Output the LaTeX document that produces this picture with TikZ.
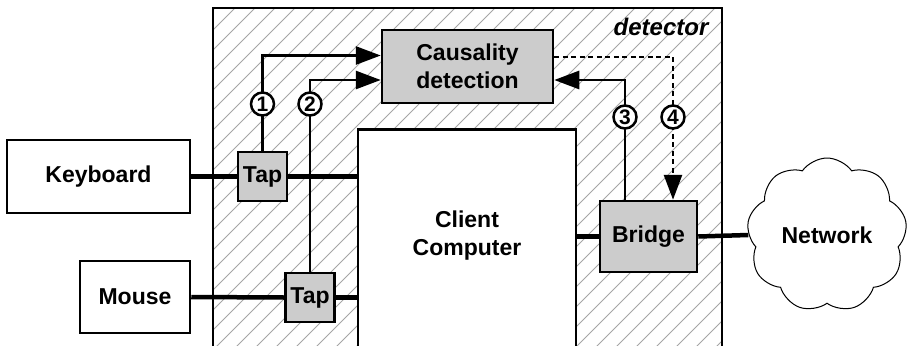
\documentclass[tikz,border=0pt]{standalone}
\usepackage{fontspec}
\setmainfont{Liberation Sans}
\usetikzlibrary{shapes.symbols,arrows.meta,calc}

\definecolor{boxgray}{RGB}{204,204,204}
\definecolor{hatchgray}{RGB}{165,165,165}

\tikzset{
  labelfont/.style={font=\fontsize{23}{28}\selectfont\bfseries},
  box/.style={draw=black, line width=2.5pt, rectangle, inner sep=0pt, align=center, labelfont},
  graybox/.style={box, fill=boxgray},
  bus/.style={line width=4.5pt},
  signal/.style={line width=2.8pt, -{Triangle[length=25pt,width=18pt]}},
  control/.style={signal, dash pattern=on 5pt off 3.5pt},
  marker/.style={circle, draw=black, line width=2.5pt, fill=white, minimum size=23pt,
    inner sep=0pt, font=\fontsize{21}{21}\selectfont\bfseries},
}

\begin{document}
\begin{tikzpicture}[x=1pt,y=-1pt]
\useasboundingbox (0,0) rectangle (909,345);

% hatched detector area, open at the bottom
\begin{scope}
  \clip (213,8) rectangle (722,370);
  \foreach \i in {-380,-360,...,740}
    \draw[hatchgray, line width=0.8pt] (213+\i,370) -- ++(362,-362);
\end{scope}
\draw[line width=1.5pt] (213,370) -- (213,8) -- (722,8) -- (722,370);
\node[font=\fontsize{24}{24}\selectfont\bfseries\itshape] (detlabel) at (661,27) {detector};

% boxes
\node[box, minimum width=183pt, minimum height=73pt] (keyboard) at (98.5,176.5) {Keyboard};
\node[box, minimum width=110pt, minimum height=72pt] (mouse) at (135,297) {Mouse};
\node[box, fill=white, minimum width=218pt, minimum height=250pt, anchor=north] (client) at (467,128) {};
\node[labelfont, align=center] (clientlabel) at (467,236) {Client\\Computer};
\node[graybox, minimum width=171pt, minimum height=73pt] (causality) at (467.5,66.5) {Causality\\detection};
\node[graybox, minimum size=49pt] (tap1) at (262.5,176.5) {Tap};
\node[graybox, minimum size=49pt] (tap2) at (310,297.5) {Tap};
\node[graybox, minimum width=97pt, minimum height=71pt] (bridge) at (648.5,236.5) {Bridge};
\node[cloud, draw=black, line width=1pt, fill=white, cloud puffs=9, cloud puff arc=110,
      minimum width=160pt, minimum height=124pt, labelfont] (network) at (827,235) {Network};

% data paths
\draw[bus] (keyboard.east) -- (tap1.west);
\draw[bus] (tap1.east) -- (tap1.east -| client.west);
\draw[bus] (mouse.east) -- (tap2.west);
\draw[bus] (tap2.east) -- (tap2.east -| client.west);
\draw[bus] (bridge.west -| client.east) -- (bridge.west);
\draw[bus] (bridge.east) -- (network.west);

% observations and control
\draw[signal] (tap1.north) |- ($(causality.west)+(0,-11)$);
\draw[signal] (tap2.north) |- ($(causality.west)+(0,13.5)$);
\draw[signal] ($(bridge.north)+(-23.5,0)$) |- ($(causality.east)+(0,13.5)$);
\draw[control] ($(causality.east)+(0,-9.5)$) -| ($(bridge.north)+(24.5,0)$);

% numbered markers
\node[marker] (m1) at (262.5,104) {1};
\node[marker] (m2) at (310,104) {2};
\node[marker] (m3) at (625,117) {3};
\node[marker] (m4) at (673,117) {4};
\end{tikzpicture}
\end{document}
